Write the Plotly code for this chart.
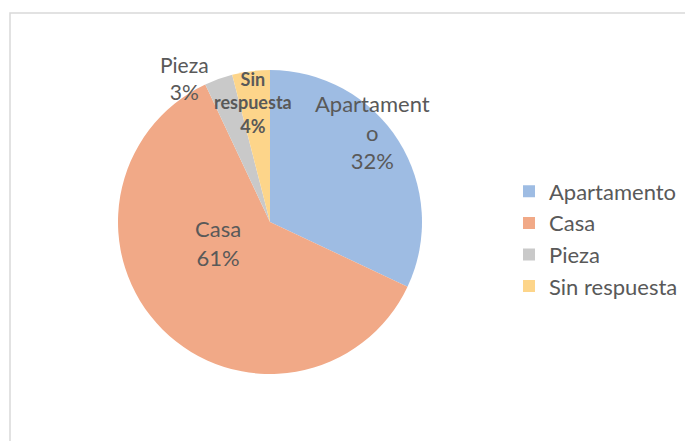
import plotly.graph_objects as go

categories = ["Apartamento", "Casa", "Pieza", "Sin respuesta"]
values = [32, 61, 3, 4]
display_labels = ["Apartament<br>o", "Casa", "Pieza", "<b>Sin<br>respuesta</b>"]
colors = ["#9ebce3", "#f1a987", "#c9c9c9", "#fdd58a"]

total = sum(values)
pcts = [round(v * 100 / total) for v in values]

FONT = "Lato, Carlito, sans-serif"
GREY = "#595959"
W, H = 693, 441
CX, CY, R = 262, 214, 152

fig = go.Figure()
fig.add_trace(go.Pie(
    labels=categories,
    values=values,
    textinfo="none",
    sort=False,
    direction="clockwise",
    rotation=0,
    marker=dict(colors=colors, line=dict(color="#ffffff", width=0)),
    hoverinfo="label+percent",
    domain=dict(x=[(CX - R) / W, (CX + R) / W],
                y=[(H - CY - R) / H, (H - CY + R) / H]),
))

# label positions (pixels in figure space) for the data labels
label_pos = [(364, 124), (210, 235), (176, 70), (245, 95)]
label_size = [22, 22, 21, 18]
annotations = []
for i, (px, py) in enumerate(label_pos):
    pct = f"<b>{pcts[i]}%</b>" if i == 3 else f"{pcts[i]}%"
    annotations.append(dict(
        xref="paper", yref="paper", x=px / W, y=1 - py / H,
        xanchor="center", yanchor="middle", showarrow=False, align="center",
        text=f"{display_labels[i]}<br>{pct}",
        font=dict(family=FONT, size=label_size[i], color=GREY),
    ))

fig.update_layout(
    width=W, height=H,
    margin=dict(l=0, r=0, t=0, b=0),
    paper_bgcolor="#ffffff",
    plot_bgcolor="#ffffff",
    showlegend=True,
    legend=dict(
        x=501 / W, y=1 - 231 / H, xanchor="left", yanchor="middle",
        font=dict(family=FONT, size=22, color=GREY),
        itemwidth=30,
    ),
    annotations=annotations,
    shapes=[dict(type="rect", xref="paper", yref="paper",
                 x0=2 / W, x1=1.05, y0=-0.05, y1=1 - 5 / H,
                 line=dict(color="#d9d9d9", width=1.5))],
)

fig.write_html("out.html")
